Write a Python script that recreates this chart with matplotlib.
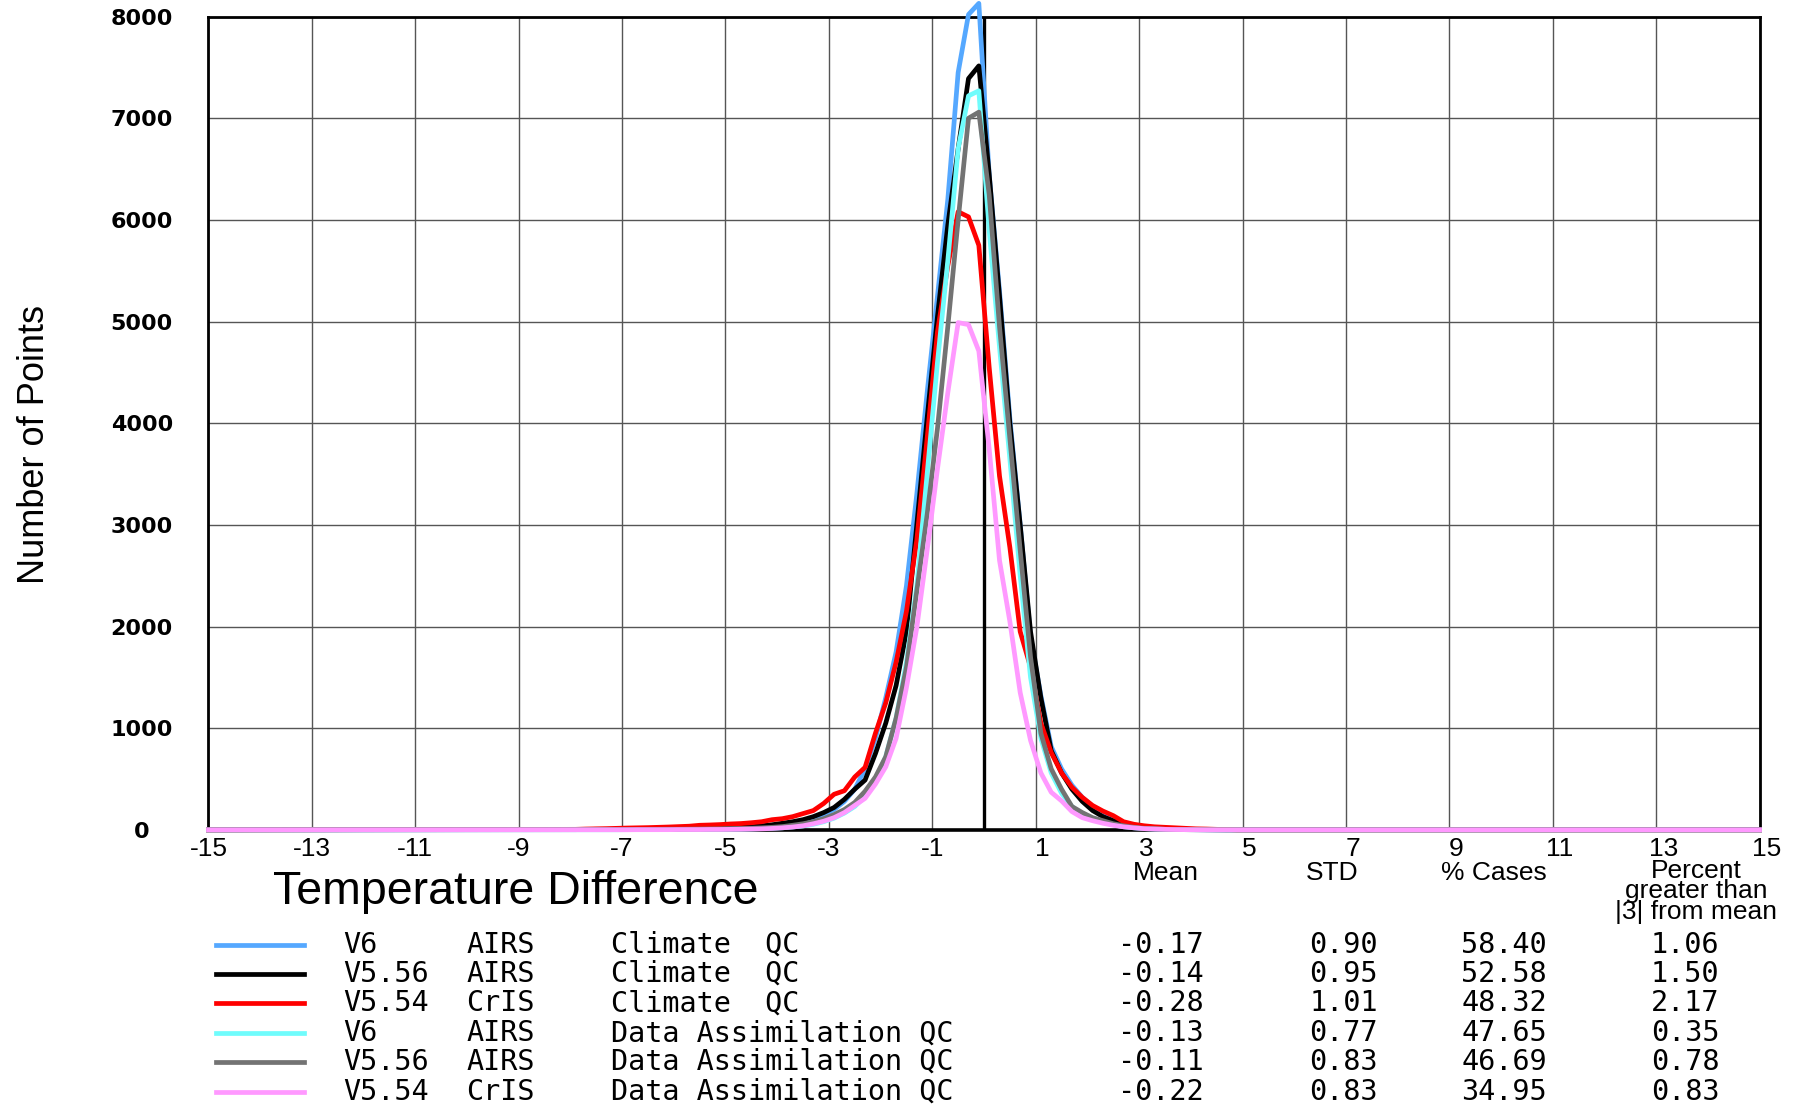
import numpy as np
import matplotlib
matplotlib.use("Agg")
import matplotlib.pyplot as plt
from matplotlib.transforms import ScaledTranslation

# bin centres (0.2 K bins) plus the two ends of the axis
bin_x = np.concatenate([[-15.0], np.round(np.linspace(-7.9, 4.9, 65), 1), [15.0]])

v6_airs_clim = [0,
    2, 3, 3, 4, 4, 5, 5, 6, 7, 8,
    9, 10, 11, 13, 15, 18, 22, 26, 32, 40,
    50, 62, 80, 110, 150, 200, 280, 400, 600, 900,
    1300, 1750, 2400, 3300, 4300, 5250, 6200, 7450, 8020, 8130,
    6450, 5300, 4050, 3000, 1900, 1320, 820, 600, 440, 320,
    230, 160, 100, 70, 45, 30, 15, 10, 6, 4,
    2, 1, 0, 0, 0,
    0]
v556_airs_clim = [0,
    3, 4, 5, 5, 6, 6, 7, 8, 9, 10,
    11, 12, 14, 16, 18, 22, 25, 30, 40, 50,
    65, 80, 100, 130, 170, 220, 300, 400, 490, 750,
    1050, 1420, 1950, 3000, 4050, 5050, 5950, 6700, 7390, 7515,
    6450, 5250, 4000, 3000, 1950, 1300, 780, 560, 400, 280,
    190, 130, 90, 70, 40, 25, 15, 10, 8, 5,
    3, 2, 1, 0, 0,
    0]
v554_cris_clim = [0,
    5, 8, 10, 12, 15, 18, 20, 22, 25, 28,
    32, 36, 45, 48, 52, 58, 62, 70, 80, 100,
    110, 130, 160, 190, 260, 350, 385, 520, 615, 950,
    1250, 1650, 2150, 2850, 3850, 4900, 5550, 6080, 6030, 5750,
    4550, 3480, 2780, 1950, 1600, 1050, 760, 560, 420, 320,
    240, 185, 140, 80, 55, 40, 30, 25, 20, 15,
    10, 8, 5, 3, 0,
    0]
v6_airs_da = [0,
    1, 1, 1, 1, 1, 2, 2, 2, 2, 3,
    3, 3, 4, 4, 5, 6, 7, 9, 12, 15,
    20, 28, 38, 55, 80, 115, 165, 230, 330, 480,
    720, 1100, 1650, 2400, 3500, 4600, 5600, 6700, 7220, 7270,
    5900, 4750, 3650, 2500, 1500, 900, 560, 360, 230, 150,
    110, 75, 50, 30, 20, 12, 8, 5, 3, 2,
    1, 0, 0, 0, 0,
    0]
v556_airs_da = [0,
    2, 3, 3, 3, 4, 4, 4, 5, 5, 6,
    6, 7, 8, 9, 10, 12, 14, 16, 20, 25,
    32, 45, 60, 80, 110, 150, 200, 270, 380, 520,
    720, 1100, 1600, 2350, 3100, 3950, 4950, 6000, 7000, 7060,
    6250, 4950, 3850, 2750, 1700, 950, 600, 400, 230, 170,
    120, 90, 60, 40, 25, 15, 10, 6, 4, 2,
    1, 0, 0, 0, 0,
    0]
v554_cris_da = [0,
    1, 1, 1, 1, 1, 1, 2, 2, 2, 2,
    3, 3, 3, 4, 4, 5, 6, 8, 10, 14,
    20, 28, 40, 60, 85, 120, 170, 240, 310, 450,
    620, 900, 1400, 1990, 2750, 3550, 4300, 4990, 4970, 4710,
    3750, 2650, 2050, 1350, 880, 560, 370, 285, 180, 120,
    90, 65, 45, 30, 20, 12, 8, 5, 3, 2,
    1, 0, 0, 0, 0,
    0]

versions = ["V6", "V5.56", "V5.54", "V6", "V5.56", "V5.54"]
instruments = ["AIRS", "AIRS", "CrIS", "AIRS", "AIRS", "CrIS"]
qc_names = ["Climate  QC", "Climate  QC", "Climate  QC",
            "Data Assimilation QC", "Data Assimilation QC", "Data Assimilation QC"]
means = [-0.17, -0.14, -0.28, -0.13, -0.11, -0.22]
stds = [0.90, 0.95, 1.01, 0.77, 0.83, 0.83]
pct_cases = [58.40, 52.58, 48.32, 47.65, 46.69, 34.95]
pct_gt3 = [1.06, 1.50, 2.17, 0.35, 0.78, 0.83]

series = [v6_airs_clim, v556_airs_clim, v554_cris_clim,
          v6_airs_da, v556_airs_da, v554_cris_da]
colors = ["#55a8ff", "#000000", "#ff0000", "#6ffcfc", "#737373", "#ff99ff"]

x_ticks = list(range(-15, 16, 2))
y_ticks = list(range(0, 8001, 1000))

W, H = 1808, 1105
fig = plt.figure(figsize=(W / 100, H / 100), dpi=100)
ax = fig.add_axes([0.1153, 0.249, 0.9732 - 0.1153, 0.985 - 0.249])

ax.set_xlim(-15, 15)
ax.set_ylim(0, 8000)
ax.set_xticks(x_ticks)
ax.set_yticks(y_ticks)
ax.grid(True, color="#555555", lw=1.0)
ax.set_axisbelow(True)
ax.tick_params(length=0)
ax.tick_params(axis="x", pad=5, labelsize=19)
ax.set_xticklabels([str(v) for v in x_ticks], family="Liberation Sans")
ax.set_yticklabels([str(v) for v in y_ticks], family="DejaVu Sans",
                   fontweight="bold", fontsize=16, ha="center")
ax.tick_params(axis="y", pad=48)
# positive labels sit a bit right of their grid line in the original
for v, lab in zip(x_ticks, ax.get_xticklabels()):
    if v > 0:
        lab.set_transform(lab.get_transform() + ScaledTranslation(7 / 100, 0, fig.dpi_scale_trans))
for s in ax.spines.values():
    s.set_linewidth(2.0)
ax.spines["bottom"].set_linewidth(2.6)

ax.axvline(0, color="black", lw=2.4, zorder=2)
for ys, c in zip(series, colors):
    ax.plot(bin_x, ys, color=c, lw=3.4, zorder=3, clip_on=False,
            solid_joinstyle="round")

fig.text(0.019, 0.598, "Number of Points", rotation=90, ha="center", va="center",
         fontsize=26, family="Liberation Sans")
fig.text(0.151, 0.193, "Temperature Difference", ha="left", va="center",
         fontsize=33.5, family="Liberation Sans")

# stats table header
hdr_y = 0.210
hdr = dict(ha="center", fontsize=19, family="Liberation Sans")
fig.text(0.645, hdr_y, "Mean", va="center", **hdr)
fig.text(0.737, hdr_y, "STD", va="center", **hdr)
fig.text(0.826, hdr_y, "% Cases", va="center", **hdr)
fig.text(0.938, 0.223, "Percent\ngreater than\n|3| from mean", va="top",
         linespacing=0.82, **hdr)

# legend rows with statistics
row_y = [0.145, 0.119, 0.092, 0.065, 0.039, 0.012]
mono = dict(fontsize=20.5, family="DejaVu Sans Mono", va="center")
for i, y in enumerate(row_y):
    fig.add_artist(plt.Line2D([0.1195, 0.168], [y, y], color=colors[i], lw=3.4,
                              transform=fig.transFigure))
    fig.text(0.190, y, versions[i], ha="left", **mono)
    fig.text(0.258, y, instruments[i], ha="left", **mono)
    fig.text(0.338, y, qc_names[i], ha="left", **mono)
    fig.text(0.642, y, f"{means[i]:.2f}", ha="center", **mono)
    fig.text(0.743, y, f"{stds[i]:.2f}", ha="center", **mono)
    fig.text(0.832, y, f"{pct_cases[i]:.2f}", ha="center", **mono)
    fig.text(0.932, y, f"{pct_gt3[i]:.2f}", ha="center", **mono)

fig.savefig("out.png", dpi=100)
